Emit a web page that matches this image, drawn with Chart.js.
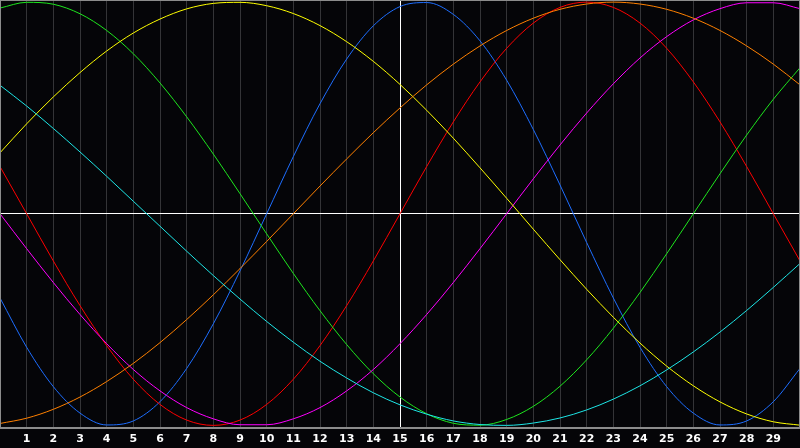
<!DOCTYPE html>
<html>
<head>
<meta charset="utf-8">
<script src="https://cdn.jsdelivr.net/npm/chart.js@4/dist/chart.umd.min.js"></script>
<style>
  html, body { margin: 0; padding: 0; background: #050508; }
  #wrap { width: 800px; height: 448px; }
</style>
</head>
<body>
<div id="wrap"><canvas id="bioChart" width="800" height="448"></canvas></div>
<script>
// days shown along the bottom (0 and 30 are the chart edges)
const days = [0, 1, 2, 3, 4, 5, 6, 7, 8, 9, 10, 11, 12, 13, 14, 15, 16, 17, 18, 19, 20, 21, 22, 23, 24, 25, 26, 27, 28, 29, 30];
const tickLabels = ['', '1', '2', '3', '4', '5', '6', '7', '8', '9', '10', '11', '12', '13', '14', '15',
                    '16', '17', '18', '19', '20', '21', '22', '23', '24', '25', '26', '27', '28', '29', ''];

// curve values, one per day, -1 .. 1
const blueValues = [-0.398, -0.631, -0.817, -0.942, -0.998, -0.979, -0.888, -0.731, -0.520, -0.270, 0, 0.270, 0.520, 0.731, 0.888, 0.979,
                    0.998, 0.942, 0.817, 0.631, 0.398, 0.136, -0.136, -0.398, -0.631, -0.817, -0.942, -0.998, -0.979, -0.888, -0.731];
const redValues = [0.223, 0, -0.223, -0.434, -0.623, -0.782, -0.901, -0.975, -1, -0.975, -0.901, -0.782, -0.623, -0.434, -0.223, 0,
                   0.223, 0.434, 0.623, 0.782, 0.901, 0.975, 1, 0.975, 0.901, 0.782, 0.623, 0.434, 0.223, 0, -0.223];
const greenValues = [0.972, 0.999, 0.990, 0.945, 0.866, 0.756, 0.618, 0.458, 0.282, 0.095, -0.095, -0.282, -0.458, -0.618, -0.756, -0.866,
                     -0.945, -0.990, -0.999, -0.972, -0.910, -0.815, -0.690, -0.541, -0.372, -0.189, 0, 0.189, 0.372, 0.541, 0.690];
const magentaValues = [0, -0.165, -0.325, -0.476, -0.614, -0.736, -0.837, -0.916, -0.969, -0.997, -0.997, -0.969, -0.916, -0.837, -0.736, -0.614,
                       -0.476, -0.325, -0.165, 0, 0.165, 0.325, 0.476, 0.614, 0.736, 0.837, 0.916, 0.969, 0.997, 0.997, 0.969];
const yellowValues = [0.288, 0.425, 0.552, 0.667, 0.769, 0.854, 0.920, 0.968, 0.994, 0.999, 0.983, 0.946, 0.889, 0.813, 0.720, 0.611,
                      0.489, 0.357, 0.217, 0.073, -0.073, -0.217, -0.357, -0.489, -0.611, -0.720, -0.813, -0.889, -0.946, -0.983, -0.999];
const orangeValues = [-0.991, -0.966, -0.924, -0.866, -0.793, -0.707, -0.609, -0.500, -0.383, -0.259, -0.131, 0, 0.131, 0.259, 0.383, 0.500,
                      0.609, 0.707, 0.793, 0.866, 0.924, 0.966, 0.991, 1, 0.991, 0.966, 0.924, 0.866, 0.793, 0.707, 0.609];
const cyanValues = [0.607, 0.509, 0.403, 0.292, 0.177, 0.059, -0.059, -0.177, -0.292, -0.403, -0.509, -0.607, -0.697, -0.776, -0.846, -0.903,
                    -0.947, -0.979, -0.996, -1.000, -0.989, -0.965, -0.927, -0.876, -0.813, -0.738, -0.653, -0.559, -0.457, -0.348, -0.235];

const gridGray = '#343437';
const frameGray = '#8c8c8c';

function curve(values, color) {
    return {
        data: values,
        borderColor: color,
        borderWidth: 1,
        pointRadius: 0,
        cubicInterpolationMode: 'monotone',
        fill: false
    };
}

// grey frame round the plot area
const framePlugin = {
    id: 'frame',
    afterDraw(chart) {
        const a = chart.chartArea;
        const c = chart.ctx;
        c.save();
        c.strokeStyle = frameGray;
        c.lineWidth = 1;
        c.strokeRect(Math.round(a.left) + 0.5, Math.round(a.top) + 0.5,
                     Math.round(a.right - a.left) - 1, Math.round(a.bottom - a.top));
        c.restore();
    }
};

new Chart(document.getElementById('bioChart'), {
    type: 'line',
    data: {
        labels: days,
        datasets: [
            curve(cyanValues, '#1ee6e6'),
            curve(orangeValues, '#ff8000'),
            curve(yellowValues, '#ffff00'),
            curve(magentaValues, '#ff00ff'),
            curve(greenValues, '#1ee61e'),
            curve(redValues, '#ff0000'),
            curve(blueValues, '#1e6eff')
        ]
    },
    options: {
        responsive: false,
        animation: false,
        devicePixelRatio: 1,
        layout: { padding: 0, autoPadding: false },
        plugins: {
            legend: { display: false },
            tooltip: { enabled: false }
        },
        scales: {
            x: {
                offset: false,
                afterFit: (scale) => {
                    scale.height = 20.5;
                    scale.paddingLeft = 0;
                    scale.paddingRight = 0;
                },
                grid: {
                    drawTicks: false,
                    color: (ctx) => (ctx.tick && ctx.tick.value === 15) ? '#ffffff' : gridGray
                },
                border: { color: frameGray },
                ticks: {
                    autoSkip: false,
                    maxRotation: 0,
                    padding: 5,
                    color: '#ffffff',
                    font: { family: 'DejaVu Sans', size: 11, weight: 'bold' },
                    callback: (value, index) => tickLabels[index]
                }
            },
            y: {
                min: -1.01,
                max: 1.01,
                afterFit: (scale) => {
                    scale.width = 0;
                    scale.paddingTop = 0;
                    scale.paddingBottom = 0;
                },
                grid: {
                    drawTicks: false,
                    color: (ctx) => (ctx.tick && ctx.tick.value === 0) ? '#ffffff' : 'rgba(0,0,0,0)'
                },
                border: { display: false },
                ticks: { display: false, stepSize: 0.5 }
            }
        }
    },
    plugins: [framePlugin]
});
</script>
</body>
</html>
